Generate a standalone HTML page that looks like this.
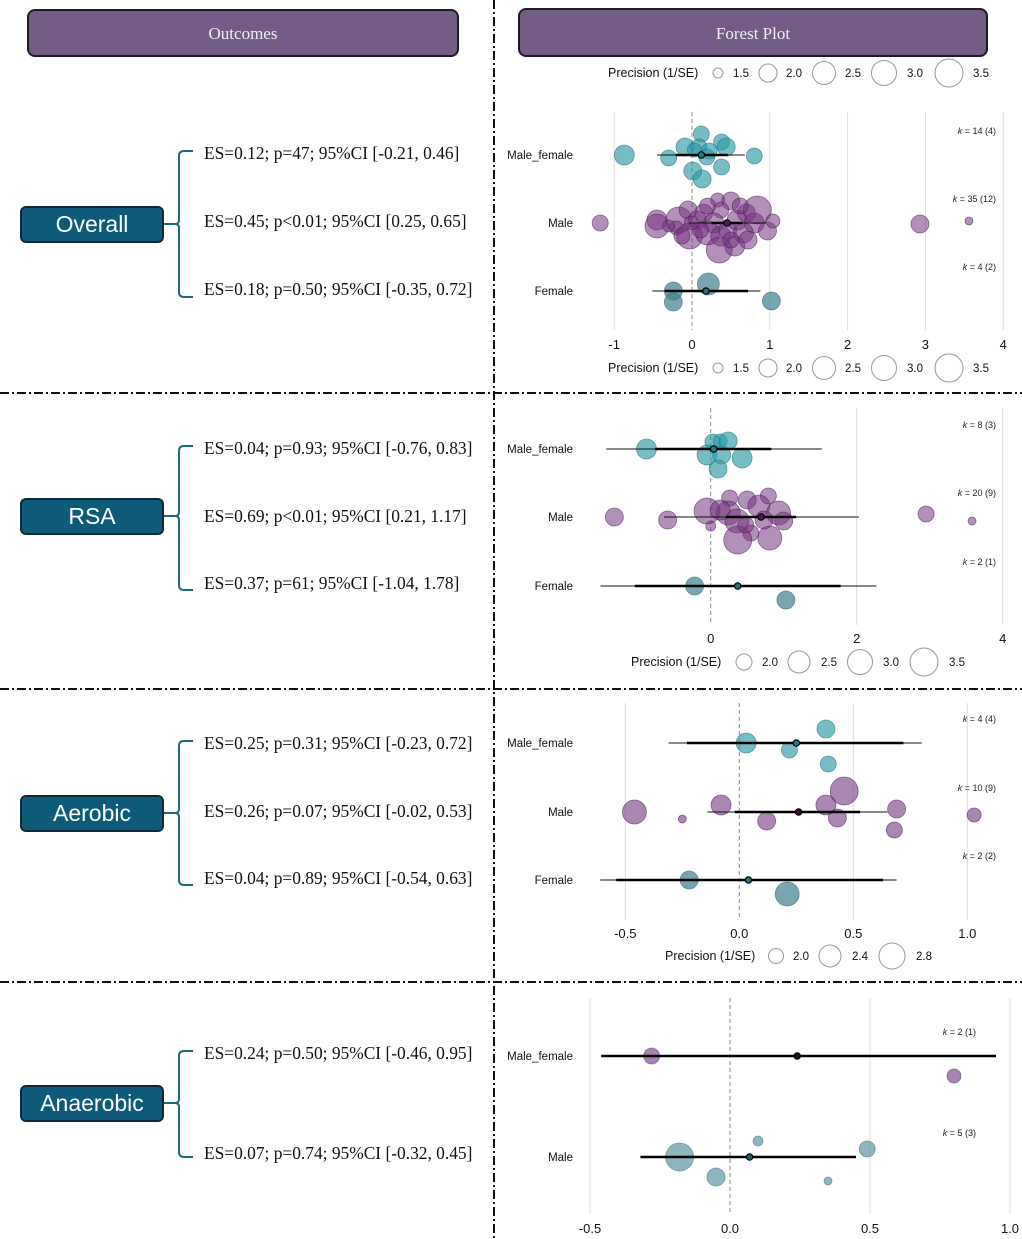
<!DOCTYPE html>
<html><head><meta charset="utf-8">
<style>
html,body{margin:0;padding:0;background:#fff;}
body{width:1022px;height:1239px;position:relative;overflow:hidden;font-family:"Liberation Sans",sans-serif;}
.hdr{position:absolute;background:#735c85;border:2px solid #1c1c24;border-radius:8px;color:#f2eef5;font-family:"Liberation Serif",serif;font-size:17px;text-align:center;box-sizing:border-box;}
.cat{position:absolute;left:20px;width:144px;height:37px;background:#0d5b79;border:2px solid #0f2a36;border-radius:6px;color:#fff;font-size:23px;text-align:center;line-height:33px;box-sizing:border-box;}
.es{position:absolute;left:204px;font-family:"Liberation Serif",serif;font-size:17.4px;color:#111;white-space:nowrap;}
svg{position:absolute;left:0;top:0;}
</style></head><body>
<div class="hdr" style="left:27px;top:9px;width:432px;height:48px;line-height:46px;">Outcomes</div>
<div class="hdr" style="left:518px;top:8px;width:470px;height:49px;line-height:47px;">Forest Plot</div>

<div class="cat" style="top:206px;">Overall</div>
<div class="cat" style="top:498px;">RSA</div>
<div class="cat" style="top:795px;">Aerobic</div>
<div class="cat" style="top:1085px;">Anaerobic</div>

<div class="es" style="top:143px;">ES=0.12; p=47; 95%CI [-0.21, 0.46]</div>
<div class="es" style="top:211px;">ES=0.45; p&lt;0.01; 95%CI [0.25, 0.65]</div>
<div class="es" style="top:279px;">ES=0.18; p=0.50; 95%CI [-0.35, 0.72]</div>
<div class="es" style="top:438px;">ES=0.04; p=0.93; 95%CI [-0.76, 0.83]</div>
<div class="es" style="top:506px;">ES=0.69; p&lt;0.01; 95%CI [0.21, 1.17]</div>
<div class="es" style="top:573px;">ES=0.37; p=61; 95%CI [-1.04, 1.78]</div>
<div class="es" style="top:733px;">ES=0.25; p=0.31; 95%CI [-0.23, 0.72]</div>
<div class="es" style="top:801px;">ES=0.26; p=0.07; 95%CI [-0.02, 0.53]</div>
<div class="es" style="top:868px;">ES=0.04; p=0.89; 95%CI [-0.54, 0.63]</div>
<div class="es" style="top:1043px;">ES=0.24; p=0.50; 95%CI [-0.46, 0.95]</div>
<div class="es" style="top:1143px;">ES=0.07; p=0.74; 95%CI [-0.32, 0.45]</div>

<svg id="chart" width="1022" height="1239" xmlns="http://www.w3.org/2000/svg"></svg>

<script>
// ---- data: points are [effect, jitter, size]
const p1_labels = ["Male_female","Male","Female"];
const p1_k = ["14 (4)","35 (12)","4 (2)"];
const p1_est = [0.12,0.45,0.18];
const p1_ci = [[-0.21,0.46],[0.25,0.65],[-0.35,0.72]];
const p1_pi = [[-0.45,0.68],[-0.04,0.95],[-0.51,0.88]];
const p1_mf = [[-0.87,0,10],[0.12,-21,8],[-0.09,-8,9],[0.09,-8,8],[0.38,-13,8],[0.44,-8,9],[0.22,-4,8],[-0.3,3,8],[0.8,1,8],[0.01,16,9],[0.19,2,8],[0.38,12,8],[0.13,24,9],[0.03,-5,7]];
const p1_male = [[-1.18,0,8],[2.93,1,9],[3.56,-2,4],[-0.45,-3,10],[-0.45,3,12],[-0.17,-3,13],[-0.05,-13,9],[-0.03,13,13],[-0.2,5,7],[0.07,-3,9],[0.15,-10,9],[0.2,10,12],[0.33,-23,7],[0.5,-22,9],[0.37,-13,8],[0.28,0,10],[0.37,13,10],[0.35,27,13],[0.55,23,10],[0.46,7,9],[0.58,-3,10],[0.7,-10,9],[0.8,0,10],[0.84,-13,14],[0.97,8,9],[1.04,-2,7],[0.66,10,10],[0.11,7,8],[-0.13,13,8],[0.5,17,8],[0.2,-17,8],[-0.01,0,7],[0.62,-17,8],[-0.3,3,6],[0.72,17,9]];
const p1_female = [[-0.24,0,9],[-0.24,11,9],[0.21,-7,11],[1.02,10,9]];
const p1_ticks = [-1,0,1,2,3,4];
const p1_legend = ["1.5","2.0","2.5","3.0","3.5"];

const p2_labels = ["Male_female","Male","Female"];
const p2_k = ["8 (3)","20 (9)","2 (1)"];
const p2_est = [0.04,0.69,0.37];
const p2_ci = [[-0.76,0.83],[0.21,1.17],[-1.04,1.78]];
const p2_pi = [[-1.43,1.52],[-0.64,2.03],[-1.51,2.27]];
const p2_mf = [[-0.88,0,10],[0.03,-7,8],[0.13,-8,7],[0.24,-8,9],[-0.05,6,10],[0.15,6,9],[0.43,9,10],[0.10,20,9]];
const p2_male = [[-1.32,0,9],[-0.59,3,9],[0,9,5],[-0.05,-6,13],[0.26,-19,8],[0.5,-17,9],[0.79,-21,8],[0.24,-4,12],[0.66,-11,11],[0.93,-4,12],[1.0,4,9],[0.36,4,12],[0.55,16,8],[0.37,23,14],[0.81,21,12],[2.95,-3,8],[3.58,4,4],[0.48,8,8],[0.73,3,9],[0.13,-7,10]];
const p2_female = [[-0.22,0,9],[1.03,14,9]];
const p2_ticks = [0,2,4];
const p2_legend = ["2.0","2.5","3.0","3.5"];

const p3_labels = ["Male_female","Male","Female"];
const p3_k = ["4 (4)","10 (9)","2 (2)"];
const p3_est = [0.25,0.26,0.04];
const p3_ci = [[-0.23,0.72],[-0.02,0.53],[-0.54,0.63]];
const p3_pi = [[-0.31,0.80],[-0.14,0.65],[-0.61,0.69]];
const p3_mf = [[0.38,-14,9],[0.03,0,10],[0.22,7,8],[0.39,21,8]];
const p3_male = [[-0.46,0,12],[-0.25,7,4],[-0.08,-7,10],[0.12,9,9],[0.38,-7,10],[0.46,-21,14],[0.43,6,9],[0.69,-3,9],[0.68,18,8],[1.03,3,7]];
const p3_female = [[-0.22,0,9],[0.21,14,12]];
const p3_ticks = [-0.5,0.0,0.5,1.0];
const p3_legend = ["2.0","2.4","2.8"];

const p4_labels = ["Male_female","Male"];
const p4_k = ["2 (1)","5 (3)"];
const p4_est = [0.24,0.07];
const p4_ci = [[-0.46,0.95],[-0.32,0.45]];
const p4_mf = [[-0.28,0,8],[0.8,20,7]];
const p4_male = [[-0.18,0,14],[-0.05,20,9],[0.1,-16,5],[0.49,-8,8],[0.35,24,4]];
const p4_ticks = [-0.5,0.0,0.5,1.0];

const NS="http://www.w3.org/2000/svg";
const svg=document.getElementById('chart');
function mk(tag,attrs,parent){const e=document.createElementNS(NS,tag);for(const k in attrs)e.setAttribute(k,attrs[k]);(parent||svg).appendChild(e);return e;}

[[494,0,494,1239],[0,393,1022,393],[0,689,1022,689],[0,982,1022,982]].forEach((l,i)=>{
  const e=mk('line',{x1:l[0],y1:l[1],x2:l[2],y2:l[3],stroke:'#111','stroke-width':2,'stroke-dasharray':'9,3,2,3'});
  
  
});

function brace(top,bot,mid){
  const g=mk('g',{});
  
  
  const c='#1a6a82';
  mk('path',{d:`M193 ${top} L184 ${top} Q179 ${top} 179 ${top+5} L179 ${mid-4} Q179 ${mid} 175 ${mid} L164 ${mid} M175 ${mid} Q179 ${mid} 179 ${mid+4} L179 ${bot-5} Q179 ${bot} 184 ${bot} L193 ${bot}`,fill:'none',stroke:c,'stroke-width':2},g);
}
brace(151,297,224);brace(446,590,516);brace(741,885,813);brace(1051,1157,1103);

function panel(o){
  const g=mk('g',{});
  
  
  const X=v=>o.x0+v*o.ppu;
  o.grid.forEach(v=>{
    const e=mk('line',{x1:X(v),x2:X(v),y1:o.gt,y2:o.gb,stroke:'#dedede','stroke-width':1},g);
    
    
  });
  const z=mk('line',{x1:X(0),x2:X(0),y1:o.gt,y2:o.gb,stroke:'#888','stroke-width':1,'stroke-dasharray':'4,3'},g);
  
  
  o.ticks.forEach(v=>{
    const t=mk('text',{x:X(v),y:o.tickY,'font-size':13,'text-anchor':'middle',fill:'#111'},g);
    t.textContent=o.tickFmt?v.toFixed(1):String(v);
    
    
  });
  o.rows.forEach((r,i)=>{
    const y=o.rowY[i];
    const lb=mk('text',{x:573,y:y+4,'font-size':11.5,'text-anchor':'end',fill:'#111'},g);
    lb.textContent=o.labels[i];
    
    
    const kt=mk('text',{x:o.kx,y:y-21,'font-size':9,'text-anchor':'end',fill:'#222'},g);
    kt.innerHTML='<tspan font-style="italic">k</tspan> = '+o.k[i];
    
    
    r.pts.forEach(p=>{
      const c=mk('circle',{cx:X(p[0]),cy:y+p[1],r:p[2],fill:r.col,'fill-opacity':r.op,stroke:r.stroke,'stroke-opacity':0.6,'stroke-width':0.8},g);
      
      
    });
    if(o.pi){
      const pl=mk('line',{x1:X(o.pi[i][0]),x2:X(o.pi[i][1]),y1:y,y2:y,stroke:'#111','stroke-width':1},g);
      
      
    }
    const cl=mk('line',{x1:X(o.ci[i][0]),x2:X(o.ci[i][1]),y1:y,y2:y,stroke:'#000','stroke-width':2.6},g);
    
    
    const es=mk('circle',{cx:X(o.est[i]),cy:y,r:3.2,fill:r.estc,stroke:'#000','stroke-width':1.2},g);
    
    
  });
}
function legend(y,tx,items,name){
  const g=mk('g',{});
  
  
  const t=mk('text',{x:tx,y:y+4,'font-size':12.5,fill:'#111'},g);
  t.textContent='Precision (1/SE)';
  items.forEach(it=>{
    mk('circle',{cx:it[0],cy:y,r:it[1],fill:'none',stroke:'#999','stroke-width':1},g);
    const l=mk('text',{x:it[2],y:y+4,'font-size':11.5,'text-anchor':'middle',fill:'#111'},g);
    l.textContent=it[3];
  });
}
const teal='#2c9aa6',fem='#3f808f',pur='#74357f';
panel({name:'overall-forest-plot',x0:692,ppu:77.8,grid:[-1,1,2,3,4],gt:112,gb:330,ticks:p1_ticks,tickY:349,rowY:[155,223,291],labels:p1_labels,k:p1_k,kx:996,est:p1_est,ci:p1_ci,pi:p1_pi,
  rows:[{pts:p1_mf,col:teal,op:0.65,stroke:'#1d6f78',estc:'#1d7f88'},{pts:p1_male,col:pur,op:0.55,stroke:'#4a1d55',estc:'#4a1d55'},{pts:p1_female,col:fem,op:0.7,stroke:'#2c5f6a',estc:'#2c6f7a'}]});
panel({name:'rsa-forest-plot',x0:710.7,ppu:73,grid:[2,4],gt:408,gb:625,ticks:p2_ticks,tickY:643,rowY:[449,517,586],labels:p2_labels,k:p2_k,kx:996,est:p2_est,ci:p2_ci,pi:p2_pi,
  rows:[{pts:p2_mf,col:teal,op:0.65,stroke:'#1d6f78',estc:'#1d7f88'},{pts:p2_male,col:pur,op:0.55,stroke:'#4a1d55',estc:'#4a1d55'},{pts:p2_female,col:fem,op:0.7,stroke:'#2c5f6a',estc:'#2c6f7a'}]});
panel({name:'aerobic-forest-plot',x0:739.3,ppu:228,grid:[-0.5,0.5,1.0],gt:703,gb:920,ticks:p3_ticks,tickFmt:true,tickY:938,rowY:[743,812,880],labels:p3_labels,k:p3_k,kx:996,est:p3_est,ci:p3_ci,pi:p3_pi,
  rows:[{pts:p3_mf,col:teal,op:0.65,stroke:'#1d6f78',estc:'#1d7f88'},{pts:p3_male,col:pur,op:0.6,stroke:'#4a1d55',estc:'#3a1040'},{pts:p3_female,col:fem,op:0.7,stroke:'#2c5f6a',estc:'#2c6f7a'}]});
panel({name:'anaerobic-forest-plot',x0:730,ppu:280,grid:[-0.5,0.5,1.0],gt:998,gb:1214,ticks:p4_ticks,tickFmt:true,tickY:1233,rowY:[1056,1157],labels:p4_labels,k:p4_k,kx:976,est:p4_est,ci:p4_ci,
  rows:[{pts:p4_mf,col:'#8a5a9a',op:0.75,stroke:'#5a3a6a',estc:'#2a0a30'},{pts:p4_male,col:'#5f95a3',op:0.7,stroke:'#3f6f7a',estc:'#1d5f68'}]});

legend(73,608,[[718,5,741,p1_legend[0]],[768,9,794,p1_legend[1]],[824,11.5,853,p1_legend[2]],[884,12.5,915,p1_legend[3]],[949,14,981,p1_legend[4]]],'precision-legend-top');
legend(368,608,[[718,5,741,p1_legend[0]],[768,9,794,p1_legend[1]],[824,11.5,853,p1_legend[2]],[884,12.5,915,p1_legend[3]],[949,14,981,p1_legend[4]]],'precision-legend-overall');
legend(662,631,[[744,8,770,p2_legend[0]],[799,11,829,p2_legend[1]],[860,12.5,891,p2_legend[2]],[924,14,957,p2_legend[3]]],'precision-legend-rsa');
legend(956,665,[[776,7.5,801,p3_legend[0]],[830,11,860,p3_legend[1]],[892,13,924,p3_legend[2]]],'precision-legend-aerobic');
</script>
</body></html>
